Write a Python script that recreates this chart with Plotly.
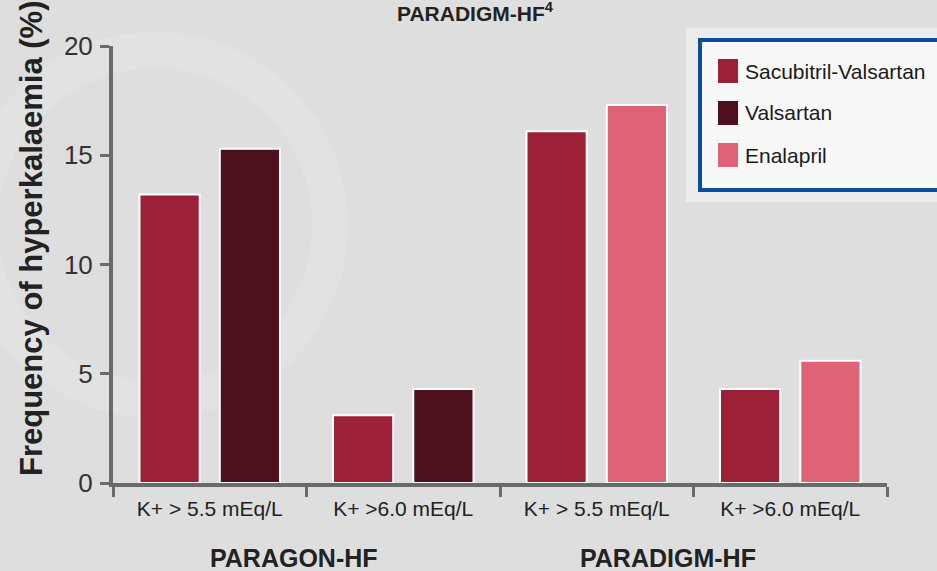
import plotly.graph_objects as go

# Hyperkalaemia frequency (%) by potassium threshold, two trials
categories = ["K+ > 5.5 mEq/L", "K+ >6.0 mEq/L", "K+ > 5.5 mEq/L", "K+ >6.0 mEq/L"]
trials = ["PARAGON-HF", "PARADIGM-HF"]
series_names = ["Sacubitril-Valsartan", "Valsartan", "Enalapril"]
series_colors = ["#9c2136", "#4e101d", "#de6377"]

sacubitril_valsartan = [13.2, 3.1, 16.1, 4.3]   # all four thresholds
valsartan = [15.3, 4.3]                          # PARAGON-HF comparator
enalapril = [17.3, 5.6]                          # PARADIGM-HF comparator

x_pos = [0, 1, 2, 3]

BG = "#dedede"
AXIS = "#6a6a6a"
FONT = "Liberation Sans, Arial, sans-serif"

fig = go.Figure()
fig.add_trace(go.Bar(x=x_pos, y=sacubitril_valsartan, name=series_names[0],
                     marker=dict(color=series_colors[0], line=dict(color="white", width=2)),
                     offsetgroup="a", showlegend=False))
fig.add_trace(go.Bar(x=x_pos[:2], y=valsartan, name=series_names[1],
                     marker=dict(color=series_colors[1], line=dict(color="white", width=2)),
                     offsetgroup="b", showlegend=False))
fig.add_trace(go.Bar(x=x_pos[2:], y=enalapril, name=series_names[2],
                     marker=dict(color=series_colors[2], line=dict(color="white", width=2)),
                     offsetgroup="b", showlegend=False))

L, R, T, B = 113, 50, 46, 88
W, H = 937, 571
pw, ph = W - L - R, H - T - B


def px(x):
    return (x - L) / pw


def py(y):
    return (H - B - y) / ph


fig.update_layout(
    width=W, height=H,
    margin=dict(l=L, r=R, t=T, b=B),
    paper_bgcolor=BG, plot_bgcolor=BG,
    barmode="group", bargap=0.17, bargroupgap=0.25,
    font=dict(family=FONT, color="#222"),
    xaxis=dict(
        range=[-0.5, 3.5], tickmode="array", tickvals=x_pos, ticktext=categories,
        ticks="", showgrid=False, zeroline=False,
        showline=True, linecolor=AXIS, linewidth=4,
        tickfont=dict(family=FONT, size=21, color="#222"), ticklabelstandoff=4,
        minor=dict(tickmode="array", tickvals=[-0.5, 0.5, 1.5, 2.5, 3.5],
                   ticks="outside", ticklen=10, tickwidth=3, tickcolor=AXIS, showgrid=False),
    ),
    yaxis=dict(
        range=[0, 20], tickvals=[0, 5, 10, 15, 20], ticks="outside", ticklen=9,
        tickwidth=3, tickcolor=AXIS, showgrid=False, zeroline=False,
        showline=True, linecolor=AXIS, linewidth=4,
        tickfont=dict(family=FONT, size=26, color="#333"), ticklabelstandoff=2,
    ),
)

annotations = [
    dict(text="<b>Frequency of hyperkalaemia (%)</b>", textangle=-90, x=px(31), y=py(238),
         xref="paper", yref="paper", showarrow=False,
         font=dict(size=31, color="#222", family=FONT),
         xanchor="center", yanchor="middle"),
    dict(text="<b>PARADIGM-HF<sup>4</sup></b>", x=px(475), y=py(12),
         xref="paper", yref="paper", showarrow=False,
         font=dict(size=21, color="#222", family=FONT),
         xanchor="center", yanchor="middle"),
]
for name, cx in zip(trials, [294, 668]):
    annotations.append(dict(text=f"<b>{name}</b>", x=px(cx), xref="paper", y=py(558),
                            yref="paper", showarrow=False,
                            font=dict(size=25, color="#222", family=FONT),
                            xanchor="center", yanchor="middle"))

shapes = [
    # faint watermark ring in the background
    dict(type="circle", xref="paper", yref="paper", layer="below",
         x0=px(-20), x1=px(330), y0=py(400), y1=py(50),
         line=dict(color="#e2e2e2", width=36), fillcolor="rgba(0,0,0,0)"),
    # legend frame
    dict(type="rect", xref="paper", yref="paper", x0=px(686), x1=px(950), y0=py(202), y1=py(28),
         fillcolor="#ececec", line=dict(width=0), layer="above"),
    dict(type="rect", xref="paper", yref="paper", x0=px(700), x1=px(960), y0=py(190), y1=py(40),
         fillcolor="#f8f8f8", line=dict(color="#0b4f9a", width=4), layer="above"),
]
for i, (name, col) in enumerate(zip(series_names, series_colors)):
    yc = 71 + i * 42
    shapes.append(dict(type="rect", xref="paper", yref="paper", x0=px(718), x1=px(738),
                       y0=py(yc + 12), y1=py(yc - 12), fillcolor=col, line=dict(width=0),
                       layer="above"))
    annotations.append(dict(text=name, x=px(743), y=py(yc), xref="paper", yref="paper",
                            showarrow=False, xanchor="left", yanchor="middle",
                            font=dict(size=21, color="#1a1a1a", family=FONT)))

fig.update_layout(annotations=annotations, shapes=shapes)
fig.write_html("out.html")
